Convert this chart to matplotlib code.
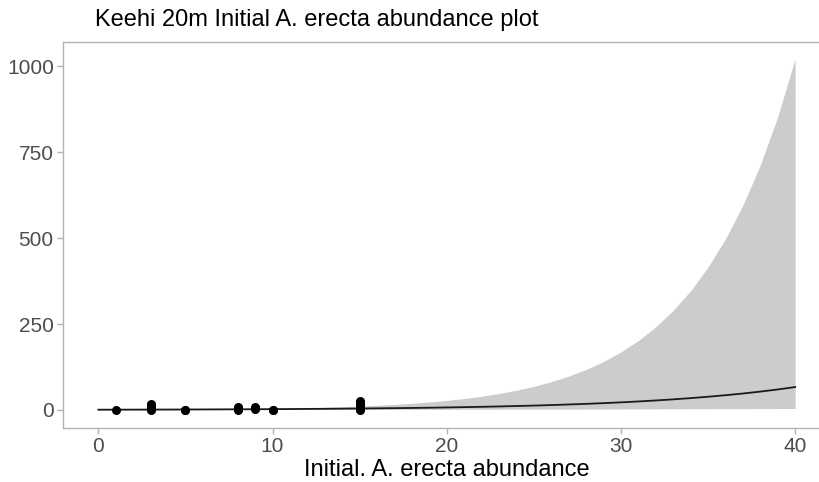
import matplotlib
matplotlib.use("Agg")
import matplotlib.pyplot as plt

plt.rcParams['font.family'] = ['Liberation Sans', 'DejaVu Sans']

# fitted curve with confidence band, one value per unit of x
x_fit = list(range(0, 41))
y_fit = [0.819, 0.914, 1.02, 1.14, 1.27, 1.42, 1.58, 1.77, 1.97, 2.20,
         2.46, 2.75, 3.07, 3.42, 3.82, 4.26, 4.76, 5.31, 5.93, 6.62,
         7.39, 8.25, 9.21, 10.3, 11.5, 12.8, 14.3, 16.0, 17.8, 19.9,
         22.2, 24.8, 27.7, 30.9, 34.5, 38.5, 43.0, 47.9, 53.5, 59.7, 66.7]
y_low = [0.45, 0.51, 0.59, 0.67, 0.77, 0.88, 1.01, 1.14, 1.26, 1.35,
         1.42, 1.46, 1.49, 1.52, 1.55, 1.61, 1.67, 1.73, 1.80, 1.88,
         1.95, 2.03, 2.12, 2.20, 2.29, 2.39, 2.48, 2.59, 2.69, 2.80,
         2.92, 3.03, 3.16, 3.29, 3.42, 3.56, 3.71, 3.86, 4.02, 4.18, 4.35]
y_high = [1.49, 1.62, 1.77, 1.92, 2.10, 2.28, 2.48, 2.75, 3.10, 3.60,
          4.26, 5.16, 6.30, 7.69, 9.39, 11.3, 13.6, 16.3, 19.5, 23.3,
          27.9, 33.4, 40.0, 48.0, 57.4, 68.7, 82.3, 98.5, 118, 141,
          169, 202, 242, 290, 347, 416, 498, 596, 713, 854, 1022]

# observed abundances
obs_x = [1, 3, 3, 3, 3, 3, 3, 5, 5, 8, 8, 8, 8, 9, 9, 9, 10, 10,
         15, 15, 15, 15, 15, 15, 15]
obs_y = [0, 0, 2, 5, 9, 14, 17, 0, 1, 0, 3, 6, 10, 3, 6, 9, 0, 1,
         0, 2, 5, 10, 16, 21, 25]

fig = plt.figure(figsize=(8.2, 4.82), dpi=100)
ax = fig.add_axes([63.5 / 820, 54.5 / 482, (830 - 63.5) / 820, (427.5 - 42) / 482])

ax.fill_between(x_fit, y_low, y_high, color='#cccccc', linewidth=0)
ax.plot(x_fit, y_fit, color='#1a1a1a', linewidth=1.3)
ax.scatter(obs_x, obs_y, s=30, color='black', zorder=3)

ax.set_xlim(-2, 42)
ax.set_ylim(-51, 1071)
ax.set_xticks([0, 10, 20, 30, 40])
ax.set_yticks([0, 250, 500, 750, 1000])

for s in ax.spines.values():
    s.set_color('#b3b3b3')
    s.set_linewidth(1.0)
ax.spines['right'].set_visible(False)
ax.tick_params(colors='#b3b3b3', labelcolor='#4d4d4d', labelsize=15,
               length=4, width=1.0, pad=3)

ax.set_xlabel('Initial. A. erecta abundance', fontsize=17, color='black', labelpad=2)
fig.text(95 / 820, 1 - 20 / 482, 'Keehi 20m Initial A. erecta abundance plot',
         fontsize=17, va='center', ha='left')

fig.savefig('out.png', dpi=100)
